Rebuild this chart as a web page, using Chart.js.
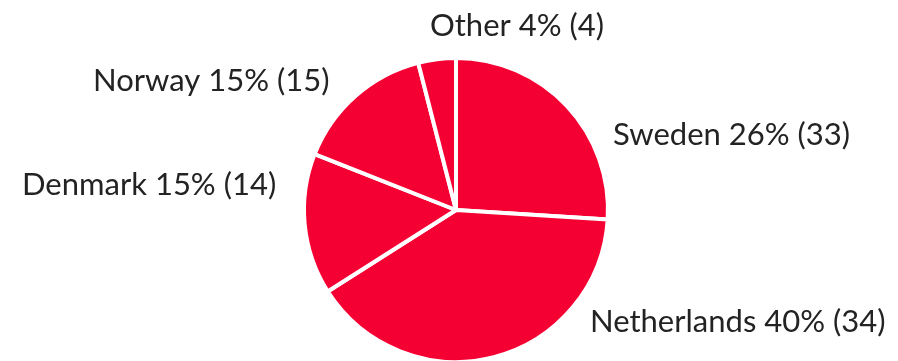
<!DOCTYPE html>
<html>
<head>
<meta charset="utf-8">
<script src="https://cdn.jsdelivr.net/npm/chart.js@4"></script>
<style>
  html, body { margin: 0; padding: 0; background: #fff; overflow: hidden; }
  #wrap { width: 898px; height: 361px; overflow: hidden; }
</style>
</head>
<body>
<div id="wrap"><canvas id="pie-chart" width="898" height="364"></canvas></div>
<script>
// data
var countries = ["Sweden", "Netherlands", "Denmark", "Norway", "Other"];
var percents = [26, 40, 15, 15, 4];
var counts = [33, 34, 14, 15, 4];

// where each label text sits (left x, baseline y)
var labelSpots = {
    "Sweden": [613, 145],
    "Netherlands": [590, 332],
    "Denmark": [22, 195],
    "Norway": [93, 91],
    "Other": [430, 36]
};

var outsideLabels = {
    id: 'outsideLabels',
    afterDraw: function(chart){
        var ctx = chart.ctx;
        ctx.save();
        ctx.fillStyle = '#232323';
        ctx.font = '31px Lato';
        ctx.textAlign = 'left';
        ctx.textBaseline = 'alphabetic';
        for(var i = 0; i < countries.length; i++){
            var spot = labelSpots[countries[i]];
            var txt = countries[i] + ' ' + percents[i] + '% (' + counts[i] + ')';
            ctx.fillText(txt, spot[0], spot[1]);
        }
        ctx.restore();
    }
};

new Chart(document.getElementById("pie-chart"), {
    type: 'pie',
    data: {
        labels: countries,
        datasets: [{
            data: percents,
            backgroundColor: '#f50033',
            borderColor: '#ffffff',
            borderWidth: 4,
            hoverOffset: 0
        }]
    },
    options: {
        responsive: false,
        animation: false,
        layout: { padding: { top: 56, bottom: 0, left: 302, right: 288 } },
        plugins: {
            legend: { display: false },
            tooltip: { enabled: false },
            title: { display: false }
        }
    },
    plugins: [outsideLabels]
});
</script>
</body>
</html>
